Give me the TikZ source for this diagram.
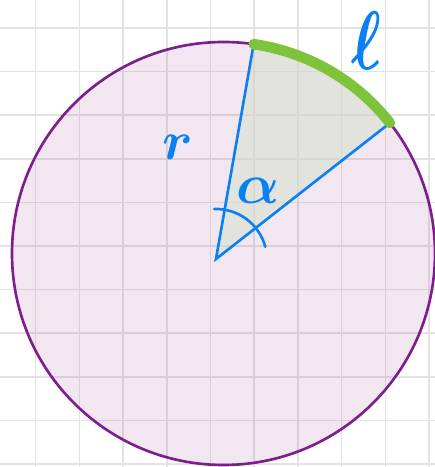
\documentclass[tikz,border=0pt]{standalone}
\usepackage{tikz}
\usetikzlibrary{calc}
\definecolor{gridline}{HTML}{E3E3E3}
\definecolor{plum}{HTML}{7E1E8E}
\definecolor{blush}{HTML}{9A3C8C}
\definecolor{stone}{HTML}{D8E0CD}
\definecolor{sky}{HTML}{0A80F2}
\definecolor{lime}{HTML}{7DC43A}
\tikzset{gridln/.style={draw=gridline,line width=0.8pt},
  disc/.style={fill=blush,fill opacity=0.12},
  rim/.style={draw=plum,line width=1.5pt},
  sector/.style={fill=stone,fill opacity=0.55},
  radius line/.style={draw=sky,line width=1.5pt,line cap=round},
  arclen/.style={draw=lime,line width=6pt,line cap=round},
  lbl/.style={text=sky,inner sep=0pt,font=\Huge\boldmath}}

\begin{document}
\begin{tikzpicture}[x=0.02cm,y=0.02cm]
\fill[white] (0,0) rectangle (435,467);
\useasboundingbox (0,0) rectangle (435,467);
% grid
\foreach \gx in {35.7,79.4,...,430}
  \draw[gridln] (\gx,0) -- (\gx,467);
\foreach \gy in {3,46.6,...,440}
  \draw[gridln] (0,\gy) -- (435,\gy);
% circle and sector
\coordinate (C) at (223.5,213.5);
\coordinate (O) at (216,208);
\coordinate (A) at ($(C)+(81.8:211.5)$);
\coordinate (B) at ($(C)+(38.1:211.5)$);
\fill[disc] (C) circle[radius=211.5];
\fill[sector] (O) -- (A) arc[start angle=81.8,end angle=38.1,radius=211.5] -- cycle;
\draw[rim] (C) circle[radius=211.5];
\draw[radius line] (A) -- (O) -- (B);
\draw[arclen] (A) arc[start angle=81.8,end angle=38.1,radius=211.5];
\draw[radius line] ($(O)+(92:50)$) arc[start angle=92,end angle=15,radius=51];
% labels
\node[lbl,scale=1.25] (rlab) at (178,320) {$r$};
\node[lbl,xscale=1.45,yscale=1.9] (llab) at (367,426) {$\ell$};
\node[lbl,scale=1.3] (alab) at (258,276) {$\alpha$};
\end{tikzpicture}
\end{document}
